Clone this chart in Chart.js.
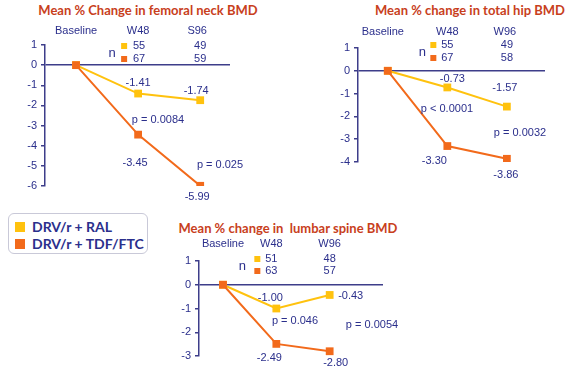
<!DOCTYPE html>
<html><head><meta charset="utf-8">
<script src="https://cdn.jsdelivr.net/npm/chart.js@4"></script>
<style>
html,body{margin:0;padding:0;background:#fff}
body{width:576px;height:369px;position:relative;overflow:hidden;font-family:"Liberation Sans",Arial,sans-serif}
canvas{position:absolute}
.title{position:absolute;font-family:Lato,"Open Sans",sans-serif;font-weight:bold;font-size:13px;color:#c8401c;white-space:pre;transform:translate(-50%,-50%)}
.legend{position:absolute;left:8px;top:213px;width:140px;height:41px;border:1px solid #c9c9d8;border-radius:6px;box-sizing:border-box}
.li{position:absolute;left:23px;font-family:Lato,"Open Sans",sans-serif;font-weight:bold;font-size:14px;color:#2b2f8c;white-space:nowrap;line-height:16px}
.sw{position:absolute;left:6px;width:10px;height:10px}
</style>
</head><body>
<div id="t1" class="title" style="left:148px;top:10px"></div>
<div id="t2" class="title" style="left:470px;top:10px"></div>
<div id="t3" class="title" style="left:288px;top:228px"></div>
<div class="legend">
  <div class="sw" id="sw0" style="top:8px"></div><div class="li" id="l0" style="top:5px"></div>
  <div class="sw" id="sw1" style="top:25px"></div><div class="li" id="l1" style="top:22px"></div>
</div>
<canvas id="c1" width="290" height="210" style="left:0;top:0;width:290px;height:210px"></canvas>
<canvas id="c2" width="286" height="210" style="left:290px;top:0;width:286px;height:210px"></canvas>
<canvas id="c3" width="416" height="169" style="left:160px;top:200px;width:416px;height:169px"></canvas>
<script>
// ---- data ----
const seriesNames = ['DRV/r + RAL', 'DRV/r + TDF/FTC'];
const titles = ['Mean % Change in femoral neck BMD', 'Mean % change in total hip BMD', 'Mean % change in  lumbar spine BMD'];

const femoralCategories = ['Baseline', 'W48', 'S96'];
const femoralRAL = [0, -1.41, -1.74];
const femoralTDF = [0, -3.45, -5.99];
const femoralN_RAL = [55, 49];
const femoralN_TDF = [67, 59];
const femoralP = ['p = 0.0084', 'p = 0.025'];
const femoralYRange = [-6, 1];

const hipCategories = ['Baseline', 'W48', 'W96'];
const hipRAL = [0, -0.73, -1.57];
const hipTDF = [0, -3.30, -3.86];
const hipN_RAL = [55, 49];
const hipN_TDF = [67, 58];
const hipP = ['p < 0.0001', 'p = 0.0032'];
const hipYRange = [-4, 1];

const spineCategories = ['Baseline', 'W48', 'W96'];
const spineRAL = [0, -1.00, -0.43];
const spineTDF = [0, -2.49, -2.80];
const spineN_RAL = [51, 48];
const spineN_TDF = [63, 57];
const spineP = ['p = 0.046', 'p = 0.0054'];
const spineYRange = [-3, 1];

// ---- style ----
const YELLOW = '#FFC20E';
const ORANGE = '#F26A1B';
const NAVY = '#2b2f8c';
const AXIS = '#3d3d8a';
const FONT = '"Liberation Sans", Arial, sans-serif';

document.getElementById('t1').textContent = titles[0];
document.getElementById('t2').textContent = titles[1];
document.getElementById('t3').textContent = titles[2];
document.getElementById('l0').textContent = seriesNames[0];
document.getElementById('l1').textContent = seriesNames[1];
document.getElementById('sw0').style.background = YELLOW;
document.getElementById('sw1').style.background = ORANGE;

const panelText = {
  id: 'panelText',
  afterDatasetsDraw(chart, args, o) {
    const ctx = chart.ctx;
    const xs = chart.scales.x;
    ctx.save();
    ctx.fillStyle = NAVY;
    ctx.font = '11px ' + FONT;
    ctx.textAlign = 'center';
    ctx.textBaseline = 'middle';
    o.categories.forEach((c, i) => {
      ctx.fillText(c, xs.getPixelForValue(i) + o.catDx[i], o.catY);
    });
    const xW48 = xs.getPixelForValue(1);
    const xW96 = xs.getPixelForValue(2);
    ctx.font = '13px ' + FONT;
    ctx.fillText('n', xW48 + o.nDx[0], (o.nRowY[0] + o.nRowY[1]) / 2 + 1);
    ctx.fillStyle = YELLOW;
    ctx.fillRect(xW48 + o.nDx[1] - 3, o.nRowY[0] - 3, 6, 6);
    ctx.fillStyle = ORANGE;
    ctx.fillRect(xW48 + o.nDx[1] - 3, o.nRowY[1] - 3, 6, 6);
    ctx.fillStyle = NAVY;
    ctx.font = '11px ' + FONT;
    ctx.fillText(String(o.nA[0]), xW48 + o.nDx[2], o.nRowY[0]);
    ctx.fillText(String(o.nB[0]), xW48 + o.nDx[2], o.nRowY[1]);
    ctx.fillText(String(o.nA[1]), xW96, o.nRowY[0]);
    ctx.fillText(String(o.nB[1]), xW96, o.nRowY[1]);
    chart.data.datasets.forEach((ds, di) => {
      const meta = chart.getDatasetMeta(di);
      const offs = o.valOffsets[ds.key];
      meta.data.forEach((pt, i) => {
        if (!offs[i]) return;
        ctx.fillText(ds.data[i].y.toFixed(2), pt.x + offs[i][0], pt.y + offs[i][1]);
      });
    });
    o.p.forEach((t, i) => ctx.fillText(t, o.pPos[i][0], o.pPos[i][1]));
    ctx.restore();
  }
};

function makeChart(id, cats, ral, tdf, yr, xr, pad, yW, text) {
  const toXY = arr => arr.map((v, i) => ({x: i, y: v}));
  return new Chart(document.getElementById(id), {
    type: 'line',
    data: {
      datasets: [
        {key: 'tdf', label: seriesNames[1], data: toXY(tdf), borderColor: ORANGE, backgroundColor: ORANGE,
         borderWidth: 2, pointStyle: 'rect', pointRadius: 5.5, pointBorderWidth: 0, tension: 0},
        {key: 'ral', label: seriesNames[0], data: toXY(ral), borderColor: YELLOW, backgroundColor: YELLOW,
         borderWidth: 2, pointStyle: 'rect', pointRadius: 5.5, pointBorderWidth: 0, tension: 0}
      ]
    },
    options: {
      responsive: false, animation: false, devicePixelRatio: 1,
      layout: {padding: pad},
      plugins: {legend: {display: false}, tooltip: {enabled: false}, panelText: Object.assign({categories: cats}, text)},
      scales: {
        x: {type: 'linear', display: false, min: xr[0], max: xr[1]},
        y: {
          min: yr[0], max: yr[1],
          afterFit(s) { s.width = yW; },
          ticks: {stepSize: 1, color: NAVY, font: {size: 11, family: FONT}, padding: 4},
          border: {display: true, color: AXIS, width: 1.5},
          grid: {
            tickLength: 4, tickColor: AXIS, tickWidth: 1.5, lineWidth: 1.5,
            color: c => (c.tick && c.tick.value === 0) ? AXIS : 'rgba(0,0,0,0)'
          }
        }
      }
    },
    plugins: [panelText]
  });
}

makeChart('c1', femoralCategories, femoralRAL, femoralTDF, femoralYRange, [-0.5, 2.48],
  {left: 5, top: 45, right: 60, bottom: 24}, 40,
  {catY: 31, catDx: [0, 0, -3], nRowY: [46, 59], nDx: [-26, -14, 1], nA: femoralN_RAL, nB: femoralN_TDF,
   valOffsets: {ral: [null, [0, -11], [-4, -9]], tdf: [null, [-3, 28], [-3, 11]]},
   p: femoralP, pPos: [[158, 120], [220, 165]]});

makeChart('c2', hipCategories, hipRAL, hipTDF, hipYRange, [-0.5, 2.64],
  {left: 28, top: 48, right: 31, bottom: 48}, 40,
  {catY: 32, catDx: [-5, 0, -2], nRowY: [45, 58], nDx: [-25, -14, 0], nA: hipN_RAL, nB: hipN_TDF,
   valOffsets: {ral: [null, [5, -8], [-2, -19]], tdf: [null, [-13, 15], [-1, 16]]},
   p: hipP, pPos: [[157, 109], [230, 133]]});

makeChart('c3', spineCategories, spineRAL, spineTDF, spineYRange, [-0.45, 3.0],
  {left: 3, top: 61, right: 193, bottom: 13}, 36,
  {catY: 44, catDx: [0, -5, 0], nRowY: [59, 71], nDx: [-34, -19, -5], nA: spineN_RAL, nB: spineN_TDF,
   valOffsets: {ral: [null, [-6, -11], [21, 1]], tdf: [null, [-7, 14], [6, 12]]},
   p: spineP, pPos: [[135, 121], [212, 125]]});
</script>
</body></html>
